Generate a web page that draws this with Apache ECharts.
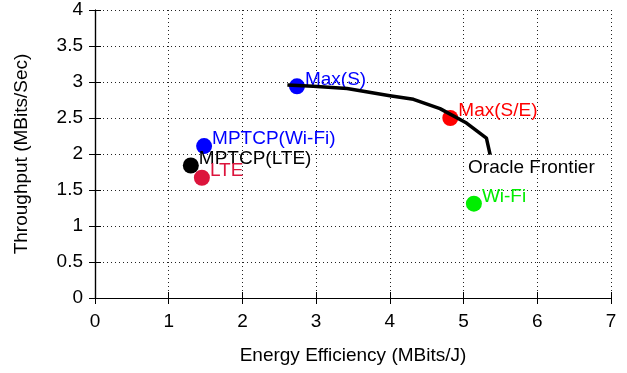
<!DOCTYPE html>
<html>
<head>
<meta charset="utf-8">
<script src="https://cdn.jsdelivr.net/npm/echarts@6/dist/echarts.min.js"></script>
<style>
  html, body { margin: 0; padding: 0; background: #fff; }
  #chart { width: 627px; height: 373px; }
</style>
</head>
<body>
<div id="chart"></div>
<script>
// Measured operating points
const pointNames = ['Max(S)', 'Max(S/E)', 'MPTCP(Wi-Fi)', 'MPTCP(LTE)', 'LTE', 'Wi-Fi'];
const pointEfficiency = [2.74, 4.82, 1.48, 1.30, 1.45, 5.14];
const pointThroughput = [2.94, 2.50, 2.11, 1.84, 1.67, 1.31];

// Oracle frontier curve
const frontierEfficiency = [2.61, 2.96, 3.42, 4.00, 4.32, 4.68, 5.04, 5.31, 5.36];
const frontierThroughput = [2.96, 2.94, 2.91, 2.81, 2.76, 2.63, 2.43, 2.22, 1.99];
const frontierName = 'Oracle Frontier';

// Axis ticks
const xTicks = [0, 1, 2, 3, 4, 5, 6, 7];
const yTicks = [0, 0.5, 1, 1.5, 2, 2.5, 3, 3.5, 4];

const pointColor = {
  'Max(S)': '#0000ff',
  'Max(S/E)': '#ff0000',
  'MPTCP(Wi-Fi)': '#0000ff',
  'MPTCP(LTE)': '#000000',
  'LTE': '#dc143c',
  'Wi-Fi': '#00ee00'
};

const FONT = 'Liberation Sans, Arial, Helvetica, sans-serif';
const FS = 19;

const chart = echarts.init(document.getElementById('chart'));

const gridLine = { show: true, lineStyle: { color: '#222', width: 1, type: [1, 3] } };
const axisLine = { show: true, lineStyle: { color: '#000', width: 1.2 } };
const tick = { show: true, inside: true, length: 6, lineStyle: { color: '#000', width: 1 } };

const xMin = xTicks[0], xMax = xTicks[xTicks.length - 1], xStep = xTicks[1] - xTicks[0];
const yMin = yTicks[0], yMax = yTicks[yTicks.length - 1], yStep = yTicks[1] - yTicks[0];

chart.setOption({
  animation: false,
  backgroundColor: '#fff',
  grid: { left: 95, right: 16, top: 10, bottom: 75 },
  xAxis: [{
    type: 'value', min: xMin, max: xMax, interval: xStep,
    name: 'Energy Efficiency (MBits/J)', nameLocation: 'middle', nameGap: 48,
    nameTextStyle: { fontFamily: FONT, fontSize: FS, color: '#000' },
    axisLine: axisLine, axisTick: tick, splitLine: gridLine,
    axisLabel: { fontFamily: FONT, fontSize: FS, color: '#000', margin: 14 }
  }, {
    type: 'value', position: 'top', min: xMin, max: xMax, interval: xStep,
    axisLine: axisLine, axisTick: tick, splitLine: { show: false },
    axisLabel: { show: false }
  }],
  yAxis: [{
    type: 'value', min: yMin, max: yMax, interval: yStep,
    name: 'Throughput (MBits/Sec)', nameLocation: 'middle', nameGap: 64,
    nameTextStyle: { fontFamily: FONT, fontSize: FS, color: '#000' },
    axisLine: axisLine, axisTick: tick, splitLine: gridLine,
    axisLabel: { fontFamily: FONT, fontSize: FS, color: '#000', margin: 12 }
  }, {
    type: 'value', position: 'right', min: yMin, max: yMax, interval: yStep,
    axisLine: axisLine, axisTick: tick, splitLine: { show: false },
    axisLabel: { show: false }
  }],
  series: [{
    type: 'scatter',
    z: 2,
    symbol: 'circle',
    symbolSize: 16,
    data: pointNames.map((n, i) => ({
      name: n,
      value: [pointEfficiency[i], pointThroughput[i]],
      itemStyle: { color: pointColor[n], opacity: 1 },
      label: {
        show: true,
        formatter: n,
        position: [16, 1],
        align: 'left',
        verticalAlign: 'middle',
        fontFamily: FONT,
        fontSize: FS,
        color: pointColor[n]
      }
    }))
  }, {
    type: 'line',
    z: 3,
    symbol: 'circle',
    symbolSize: 0.1,
    showSymbol: true,
    lineStyle: { color: '#000', width: 3.5, join: 'round' },
    itemStyle: { color: '#000' },
    data: frontierEfficiency.map((x, i) => ({
      value: [x, frontierThroughput[i]],
      label: i === frontierEfficiency.length - 1 ? {
        show: true,
        formatter: frontierName,
        position: [-22, 13],
        align: 'left',
        verticalAlign: 'middle',
        fontFamily: FONT,
        fontSize: FS,
        color: '#000'
      } : { show: false }
    }))
  }]
});
</script>
</body>
</html>
